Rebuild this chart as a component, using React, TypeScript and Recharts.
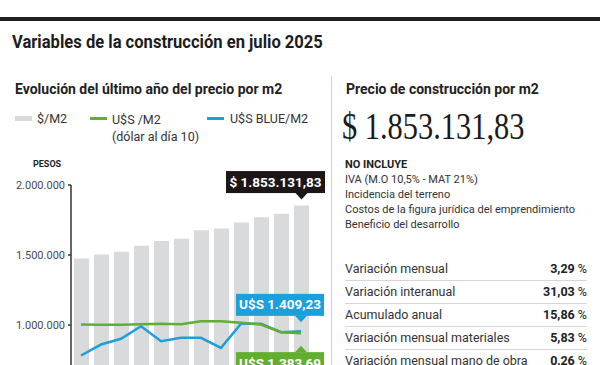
import { Bar, ComposedChart, LabelList, Line, XAxis, YAxis } from 'recharts';

const months = ['ago', 'sep', 'oct', 'nov', 'dic', 'ene', 'feb', 'mar', 'abr', 'may', 'jun', 'jul'];
const pesosM2 = [1475000, 1503000, 1523000, 1566000, 1599458, 1616000, 1677000, 1689000, 1732000, 1770000, 1794106, 1853131.83];
const usdOficialM2 = [1507, 1503, 1503, 1511, 1517, 1511, 1554, 1554, 1531, 1507, 1397, 1383.69];
const usdBlueM2 = [1064, 1221, 1303, 1483, 1269, 1317, 1317, 1174, 1517, 1517, 1397, 1409.23];
const pesosTicks = [0, 500000, 1000000, 1500000, 2000000];

const noIncluye = [
  'IVA (M.O 10,5% - MAT 21%)',
  'Incidencia del terreno',
  'Costos de la figura jurídica del emprendimiento',
  'Beneficio del desarrollo',
];
const variaciones = [
  ['Variación mensual', '3,29'],
  ['Variación interanual', '31,03'],
  ['Acumulado anual', '15,86'],
  ['Variación mensual materiales', '5,83'],
  ['Variación mensual mano de obra', '0,26'],
];

const data = months.map((m, i) => ({ month: m, pesos: pesosM2[i], usd: usdOficialM2[i], blue: usdBlueM2[i] }));

const FONT = '"Liberation Sans Narrow", "Roboto", sans-serif';
const GRAY = '#d9dadc';
const GREEN = '#62ae2f';
const BLUE = '#1ba0dc';
const last = months.length - 1;

const thousands = (s: string) => s.replace(/\B(?=(\d{3})+(?!\d))/g, '.');
const fmtPesos = (v: number) => thousands(String(Math.round(v)));
const fmtMoney = (v: number) => {
  const [i, d] = v.toFixed(2).split('.');
  return thousands(i) + ',' + d;
};

// callout box with a little pointer, only on the last point
function callout(fill: string, prefix: string, below: boolean, tipGap: number, boxW: number, boxLeft: number) {
  return (props: any) => {
    if (props.index !== last) return null;
    const cx = props.width ? props.x + props.width / 2 : props.x;
    const py = props.y;
    const boxH = 22;
    const tipY = below ? py + tipGap : py - tipGap;
    const boxY = below ? tipY + 6.5 : tipY - 6.5 - boxH;
    const baseY = below ? boxY : boxY + boxH;
    return (
      <g>
        <rect x={cx - boxLeft} y={boxY} width={boxW} height={boxH} fill={fill} />
        <polygon points={`${cx - 6},${baseY} ${cx + 6},${baseY} ${cx},${tipY}`} fill={fill} />
        <text
          x={cx - boxLeft + boxW / 2}
          y={boxY + boxH / 2 + 4.5}
          textAnchor="middle"
          fill="#fff"
          fontFamily={FONT}
          fontWeight={700}
          fontSize={13.5}
        >
          {prefix + fmtMoney(props.value)}
        </text>
      </g>
    );
  };
}

export default function App() {
  return (
    <div
      style={{
        position: 'fixed',
        left: 0,
        top: 0,
        width: 600,
        height: 365,
        overflow: 'hidden',
        background: '#fff',
        fontFamily: FONT,
        color: '#222',
      }}
    >
      <div style={{ position: 'absolute', left: 0, top: 17, width: 600, height: 4, background: '#231f20' }} />
      <div
        style={{
          position: 'absolute',
          left: 12,
          top: 31,
          fontSize: 18,
          fontWeight: 700,
          lineHeight: '22px',
          color: '#1c1c1c',
          whiteSpace: 'nowrap',
          transform: 'scaleX(0.92)',
          transformOrigin: 'left top',
        }}
      >
        Variables de la construcción en julio 2025
      </div>

      <div style={{ position: 'absolute', left: 331, top: 76, width: 1, height: 300, background: '#cfcfcf' }} />

      {/* left panel */}
      <div style={{ position: 'absolute', left: 15, top: 80, fontSize: 14, fontWeight: 700, lineHeight: '18px' }}>
        Evolución del último año del precio por m2
      </div>
      <div style={{ position: 'absolute', left: 15, top: 116, width: 17, height: 5, background: GRAY }} />
      <div style={{ position: 'absolute', left: 37, top: 111, fontSize: 12.5, lineHeight: '15px', color: '#333' }}>$/M2</div>
      <div style={{ position: 'absolute', left: 90, top: 117, width: 17, height: 3, background: GREEN }} />
      <div style={{ position: 'absolute', left: 112, top: 111, fontSize: 12.5, lineHeight: '17px', color: '#333' }}>
        U$S /M2
        <br />
        (dólar al día 10)
      </div>
      <div style={{ position: 'absolute', left: 207, top: 117, width: 17, height: 3, background: BLUE }} />
      <div style={{ position: 'absolute', left: 230, top: 111, fontSize: 12.5, lineHeight: '15px', color: '#333' }}>U$S BLUE/M2</div>
      <div style={{ position: 'absolute', left: 33, top: 158, fontSize: 9, fontWeight: 700, lineHeight: '12px', color: '#222' }}>PESOS</div>

      <div style={{ position: 'absolute', left: 0, top: 0 }}>
        <ComposedChart width={331} height={470} data={data} margin={{ top: 185, right: 20, bottom: 5, left: 0 }} barSize={15}>
          <XAxis dataKey="month" hide />
          <YAxis
            yAxisId="pesos"
            width={71}
            domain={[0, 2000000]}
            ticks={pesosTicks}
            tickFormatter={fmtPesos}
            tick={{ fill: '#4a4a4a', fontSize: 11, fontFamily: FONT }}
            tickSize={3}
            tickMargin={3}
            axisLine={{ stroke: '#333', strokeWidth: 1.5 }}
            tickLine={{ stroke: '#333', strokeWidth: 1.5 }}
          />
          <YAxis yAxisId="usd" orientation="right" hide domain={[-500, 3500]} />
          <Bar yAxisId="pesos" dataKey="pesos" fill={GRAY} isAnimationActive={false}>
            <LabelList dataKey="pesos" content={callout('#1c1616', '$ ', false, 6, 99, 75.5)} />
          </Bar>
          <Line yAxisId="usd" dataKey="blue" stroke={BLUE} strokeWidth={2.5} dot={false} type="linear" isAnimationActive={false}>
            <LabelList dataKey="blue" content={callout(BLUE, 'U$S ', false, 9, 88, 65)} />
          </Line>
          <Line yAxisId="usd" dataKey="usd" stroke={GREEN} strokeWidth={2.5} dot={false} type="linear" isAnimationActive={false}>
            <LabelList dataKey="usd" content={callout(GREEN, 'U$S ', true, 12.5, 88, 65)} />
          </Line>
        </ComposedChart>
      </div>

      {/* right panel */}
      <div style={{ position: 'absolute', left: 346, top: 80, fontSize: 14, fontWeight: 700, lineHeight: '18px' }}>
        Precio de construcción por m2
      </div>
      <div
        style={{
          position: 'absolute',
          left: 342,
          top: 105,
          fontSize: 38,
          lineHeight: '42px',
          fontFamily: '"Liberation Serif", "DejaVu Serif", serif',
          color: '#1a1a1a',
          transform: 'scaleX(0.8)',
          transformOrigin: 'left top',
          whiteSpace: 'nowrap',
        }}
      >
        $ 1.853.131,83
      </div>
      <div style={{ position: 'absolute', left: 345, top: 158, fontSize: 11, fontWeight: 700, lineHeight: '14px' }}>NO INCLUYE</div>
      {noIncluye.map((t, i) => (
        <div key={t} style={{ position: 'absolute', left: 345, top: 173 + i * 15, fontSize: 11, lineHeight: '14px', color: '#333', whiteSpace: 'nowrap' }}>
          {t}
        </div>
      ))}
      {variaciones.map(([label, val], i) => (
        <div key={label}>
          <div style={{ position: 'absolute', left: 345, top: 261 + i * 23, fontSize: 12.5, lineHeight: '16px', color: '#333', whiteSpace: 'nowrap' }}>
            {label}
          </div>
          <div style={{ position: 'absolute', right: 13, top: 261 + i * 23, fontSize: 12.5, lineHeight: '16px', color: '#222', whiteSpace: 'nowrap' }}>
            <b>{val}</b> %
          </div>
          {i < variaciones.length - 1 && (
            <div style={{ position: 'absolute', left: 345, top: 280 + i * 23, width: 242, height: 1, background: '#d6d6d6' }} />
          )}
        </div>
      ))}
    </div>
  );
}
